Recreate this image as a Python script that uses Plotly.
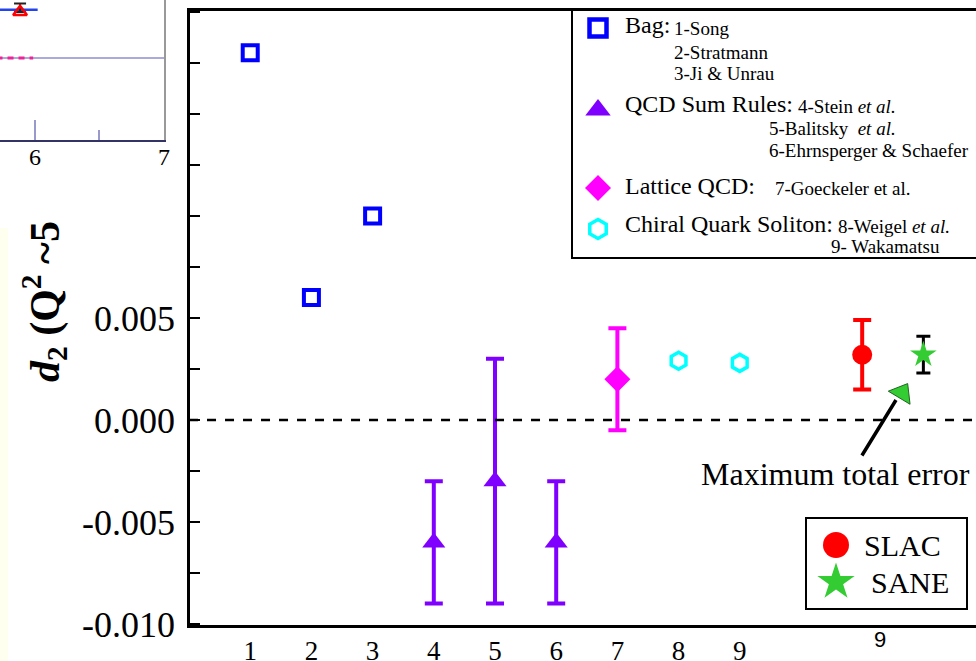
import plotly.graph_objects as go

W, H = 976, 661

# ---------------- data ----------------
bag_x = [1, 2, 3]
bag_y = [0.0180, 0.0060, 0.0100]

sum_x = [4, 5, 6]
sum_y = [-0.0060, -0.0030, -0.0060]
sum_err_plus = [0.0030, 0.0060, 0.0030]
sum_err_minus = [0.0030, 0.0060, 0.0030]

lat_x = [7]
lat_y = [0.0020]
lat_err_plus = [0.0025]
lat_err_minus = [0.0025]

chiral_x = [8, 9]
chiral_y = [0.0029, 0.0028]

slac_x = [11]
slac_y = [0.0032]
slac_err_plus = [0.0017]
slac_err_minus = [0.0017]

sane_x = [12]
sane_y = [0.0032]
sane_err_plus = [0.0009]
sane_err_minus = [0.0009]

x_tickvals = [1, 2, 3, 4, 5, 6, 7, 8, 9]
x_ticktext = ["1", "2", "3", "4", "5", "6", "7", "8", "9"]
y_tickvals = [-0.010, -0.0075, -0.005, -0.0025, 0.0, 0.0025, 0.005, 0.0075, 0.010, 0.0125, 0.015, 0.0175, 0.020]
y_ticktext = ["-0.010", "", "-0.005", "", "0.000", "", "0.005", "", "", "", "", "", ""]

# inset fragment (partial view of another panel)
inset_tickvals = [6, 7]
inset_ticktext = ["6", "7"]
inset_blue_x = [5.70, 6.02]
inset_blue_y = [0.93, 0.93]
inset_tri_x = [5.883]
inset_tri_y = [0.915]
inset_mag_x = [5.70, 5.985]
inset_mag_y = [0.586, 0.586]
inset_ref_x = [5.70, 7.02]
inset_ref_y = [0.586, 0.586]

SERIF = "Liberation Serif"

fig = go.Figure()

# ---------------- main panel ----------------
fig.add_trace(go.Scatter(x=bag_x, y=bag_y, mode="markers", xaxis="x", yaxis="y",
                         marker=dict(symbol="square-open", size=15, color="#0000ff",
                                     line=dict(width=4, color="#0000ff"))))
fig.add_trace(go.Scatter(x=sum_x, y=sum_y, mode="markers", xaxis="x", yaxis="y",
                         marker=dict(symbol="triangle-up", size=20, color="#7f00ff"),
                         error_y=dict(type="data", symmetric=False, array=sum_err_plus,
                                      arrayminus=sum_err_minus, color="#7f00ff",
                                      thickness=4, width=9)))
fig.add_trace(go.Scatter(x=lat_x, y=lat_y, mode="markers", xaxis="x", yaxis="y",
                         marker=dict(symbol="diamond", size=20, color="#ff00ff"),
                         error_y=dict(type="data", symmetric=False, array=lat_err_plus,
                                      arrayminus=lat_err_minus, color="#ff00ff",
                                      thickness=4, width=9)))
fig.add_trace(go.Scatter(x=chiral_x, y=chiral_y, mode="markers", xaxis="x", yaxis="y",
                         marker=dict(symbol="hexagon-open", size=17, color="#00ffff",
                                     line=dict(width=3.5, color="#00ffff"))))
fig.add_trace(go.Scatter(x=slac_x, y=slac_y, mode="markers", xaxis="x", yaxis="y",
                         marker=dict(symbol="circle", size=20, color="#ff0000"),
                         error_y=dict(type="data", symmetric=False, array=slac_err_plus,
                                      arrayminus=slac_err_minus, color="#ff0000",
                                      thickness=4, width=9)))
fig.add_trace(go.Scatter(x=sane_x, y=sane_y, mode="markers", xaxis="x", yaxis="y",
                         marker=dict(symbol="star", size=20, color="#33cc33"),
                         error_y=dict(type="data", symmetric=False, array=sane_err_plus,
                                      arrayminus=sane_err_minus, color="#000000",
                                      thickness=3, width=7)))

# ---------------- inset fragment ----------------
fig.add_trace(go.Scatter(x=inset_ref_x, y=inset_ref_y, mode="lines", xaxis="x2", yaxis="y2",
                         line=dict(color="#aaaadd", width=2)))
fig.add_trace(go.Scatter(x=inset_mag_x, y=inset_mag_y, mode="lines", xaxis="x2", yaxis="y2",
                         line=dict(color="#ee2299", width=3, dash="6px,5px")))
fig.add_trace(go.Scatter(x=inset_blue_x, y=inset_blue_y, mode="lines", xaxis="x2", yaxis="y2",
                         line=dict(color="#2244ee", width=2.5)))
fig.add_trace(go.Scatter(x=inset_tri_x, y=inset_tri_y, mode="markers", xaxis="x2", yaxis="y2",
                         marker=dict(symbol="triangle-up-open", size=12, color="#ff0000",
                                     line=dict(width=2.5, color="#ff0000")),
                         error_y=dict(type="data", symmetric=False, array=[0.06], arrayminus=[0.0],
                                      color="#222222", thickness=2, width=6)))

# ---------------- decoration layer (pixel coordinates) ----------------
# legend glyphs
fig.add_trace(go.Scatter(x=[598], y=[28], mode="markers", xaxis="x3", yaxis="y3",
                         marker=dict(symbol="square-open", size=17, color="#0000ff",
                                     line=dict(width=4.5, color="#0000ff"))))
fig.add_trace(go.Scatter(x=[598], y=[110], mode="markers", xaxis="x3", yaxis="y3",
                         marker=dict(symbol="triangle-up", size=22, color="#7f00ff")))
fig.add_trace(go.Scatter(x=[598], y=[188], mode="markers", xaxis="x3", yaxis="y3",
                         marker=dict(symbol="diamond", size=20, color="#ff00ff")))
fig.add_trace(go.Scatter(x=[598], y=[229], mode="markers", xaxis="x3", yaxis="y3",
                         marker=dict(symbol="hexagon-open", size=19, color="#00ffff",
                                     line=dict(width=3.5, color="#00ffff"))))
fig.add_trace(go.Scatter(x=[836], y=[545], mode="markers", xaxis="x3", yaxis="y3",
                         marker=dict(symbol="circle", size=26, color="#ff0000")))
fig.add_trace(go.Scatter(x=[836], y=[582], mode="markers", xaxis="x3", yaxis="y3",
                         marker=dict(symbol="star", size=28, color="#33cc33")))
# green arrowhead
fig.add_trace(go.Scatter(x=[902], y=[393], mode="markers", xaxis="x3", yaxis="y3",
                         marker=dict(symbol="triangle-up", size=22, color="#33cc33", angle=31,
                                     line=dict(width=1, color="#226622"))))

ann = []
def txt(x, y, s, size, anchor="left", font=SERIF, angle=0):
    ann.append(dict(x=x, y=y, xref="x3", yref="y3", text=s, showarrow=False,
                    xanchor=anchor, yanchor="middle", textangle=angle,
                    font=dict(family=font, size=size, color="black")))

big, small = 24, 19
txt(623, 25, "Bag:", big)
txt(672, 28, "1-Song", small)
txt(672, 52, "2-Stratmann", small)
txt(672, 73, "3-Ji & Unrau", small)
txt(623, 104, "QCD Sum Rules:", big)
txt(796, 106, "4-Stein <i>et al.</i>", small)
txt(767, 128, "5-Balitsky  <i>et al.</i>", small)
txt(767, 150, "6-Ehrnsperger & Schaefer", small)
txt(623, 186, "Lattice QCD:", big)
txt(773, 188, "7-Goeckeler et al.", small)
txt(623, 224, "Chiral Quark Soliton:", big)
txt(836, 226, "8-Weigel <i>et al.</i>", small)
txt(829, 246, "9- Wakamatsu", small)
txt(862, 545, "SLAC", 30)
txt(869, 582, "SANE", 30)
txt(835, 474, "Maximum total error", 32, anchor="center")
txt(880, 639, "9", 22, anchor="center", font="Liberation Sans")
txt(44, 302, "<b><i>d</i><sub>2</sub> (Q<sup>2</sup> ~5</b>", 42, anchor="center", angle=-90)
# inset tick labels
for v, s in zip(inset_tickvals, inset_ticktext):
    ann.append(dict(x=v, y=1 - 157 / H, xref="x2", yref="paper", text=s, showarrow=False,
                    xanchor="center", yanchor="middle",
                    font=dict(family=SERIF, size=24, color="black")))

# arrow shaft
ann.append(dict(x=896, y=400, ax=861, ay=457, xref="x3", yref="y3", axref="x3", ayref="y3",
                showarrow=True, arrowhead=0, arrowwidth=3.5, arrowcolor="black", text=""))

shapes = [
    # pale strip at far left
    dict(type="rect", xref="x3", yref="y3", x0=0, x1=8, y0=228, y1=661,
         fillcolor="#fffff0", line=dict(width=0), layer="below"),
    # model legend box
    dict(type="rect", xref="x3", yref="y3", x0=572, x1=985, y0=9, y1=258,
         line=dict(color="black", width=2)),
    # data legend box
    dict(type="rect", xref="x3", yref="y3", x0=806, x1=967, y0=518, y1=609,
         line=dict(color="black", width=2)),
    # zero line
    dict(type="line", xref="x", yref="y", x0=0, x1=13, y0=0, y1=0,
         line=dict(color="black", width=2.5, dash="dash")),
]

fig.update_layout(
    width=W, height=H,
    margin=dict(l=0, r=0, t=0, b=0),
    paper_bgcolor="white", plot_bgcolor="rgba(0,0,0,0)",
    showlegend=False,
    annotations=ann, shapes=shapes,
    xaxis=dict(domain=[190 / W, 1.0], range=[0.016, 12.86], anchor="y",
               tickvals=x_tickvals, ticktext=x_ticktext, ticks="",
               tickfont=dict(family=SERIF, size=27, color="black"),
               showline=True, linecolor="black", linewidth=2.5, mirror=True,
               showgrid=False, zeroline=False, automargin=False),
    yaxis=dict(domain=[36 / H, 650 / H], range=[-0.01005, 0.02005], anchor="x",
               tickvals=y_tickvals, ticktext=y_ticktext, ticks="inside",
               ticklen=10, tickwidth=2, tickcolor="black", ticklabelstandoff=5,
               tickfont=dict(family=SERIF, size=36, color="black"),
               showline=True, linecolor="black", linewidth=2.5,
               showgrid=False, zeroline=False, automargin=False),
    xaxis2=dict(domain=[0, 164 / W], range=[5.727, 7.003], anchor="y2",
                tickvals=inset_tickvals, showticklabels=False, ticks="inside", ticklen=20,
                tickwidth=2, tickcolor="#9999cc",
                minor=dict(tickvals=[6.5], ticks="inside", ticklen=10, tickwidth=2, tickcolor="#9999cc"),
                showline=True, linecolor="#333366", linewidth=2,
                showgrid=False, zeroline=False, automargin=False),
    yaxis2=dict(domain=[521 / H, 1.0], range=[0, 1], anchor="x2", side="right",
                showticklabels=False, ticks="", showline=True, linecolor="#999999",
                linewidth=2, showgrid=False, zeroline=False, automargin=False),
    xaxis3=dict(domain=[0, 1], range=[0, W], anchor="y3", visible=False,
                fixedrange=True),
    yaxis3=dict(domain=[0, 1], range=[H, 0], anchor="x3", visible=False,
                fixedrange=True),
)

fig.write_html("out.html")
